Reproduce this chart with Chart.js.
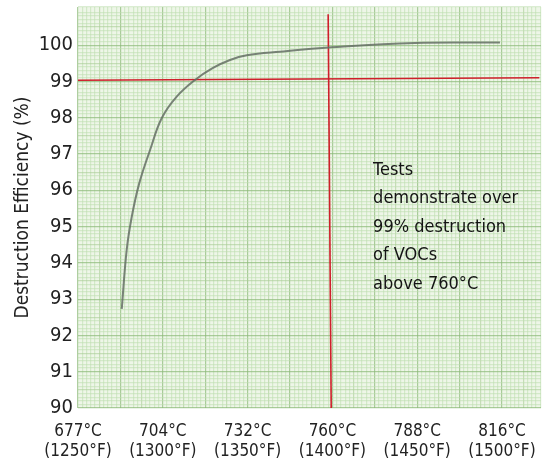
<!DOCTYPE html>
<html>
<head>
<meta charset="utf-8">
<script src="https://cdn.jsdelivr.net/npm/chart.js@4"></script>
<style>
  html, body { margin: 0; padding: 0; background: #fff; }
  #wrap { width: 549px; height: 464px; }
</style>
</head>
<body>
<div id="wrap"><canvas id="effChart"></canvas></div>
<script>
// temperatures in °F (x) and destruction efficiency in % (y)
const tempF = [1275.8, 1278.7, 1281.7, 1286.1, 1292.5, 1299.4, 1308.2, 1319.0, 1329.6, 1339.6, 1349.5, 1369.1, 1399.6, 1448.7, 1498.8];
const efficiency = [92.73, 94.35, 95.27, 96.19, 97.11, 97.99, 98.58, 99.04, 99.37, 99.59, 99.72, 99.82, 99.94, 100.06, 100.07];

// tick labels
const tickF = [1250, 1300, 1350, 1400, 1450, 1500];
const tickC = ['677°C', '704°C', '732°C', '760°C', '788°C', '816°C'];
const yLabels = [90, 91, 92, 93, 94, 95, 96, 97, 98, 99, 100];

// red guide lines
const threshX = [1250, 1522];
const threshY = [99.03, 99.1];
const markerX = [1397.5, 1399.3];
const markerY = [100.85, 90];

const note = ['Tests', 'demonstrate over', '99% destruction', 'of VOCs', 'above 760°C'];

const FONT = "'Liberation Sans Narrow', 'DejaVu Sans Condensed', Roboto, sans-serif";

const near = (v, step) => Math.abs(v / step - Math.round(v / step)) < 1e-6;

const paper = {
  id: 'paper',
  beforeDraw(chart) {
    const { ctx, chartArea: a } = chart;
    ctx.save();
    ctx.fillStyle = '#eef6e8';
    ctx.fillRect(a.left, a.top, a.right - a.left, a.bottom - a.top);
    ctx.restore();
  },
  afterDraw(chart) {
    const { ctx } = chart;
    const x = chart.scales.x.getPixelForValue(1424);
    const y0 = chart.scales.y.getPixelForValue(96.55);
    ctx.save();
    ctx.fillStyle = '#141414';
    ctx.font = '18px ' + FONT;
    ctx.textBaseline = 'middle';
    note.forEach((t, i) => ctx.fillText(t, x, y0 + i * 28.4));
    ctx.restore();
  }
};

function gridColor(ctx, major, mid) {
  const v = ctx.tick ? ctx.tick.value : 0;
  if (near(v, major)) return 'rgba(140,185,120,0.7)';
  if (near(v, mid)) return 'rgba(170,205,150,0.6)';
  return 'rgba(190,222,175,0.55)';
}

new Chart(document.getElementById('effChart'), {
  type: 'scatter',
  data: {
    datasets: [
      {
        data: tempF.map((x, i) => ({ x, y: efficiency[i] })),
        showLine: true,
        borderColor: 'rgba(100,110,100,0.85)',
        borderWidth: 2,
        pointRadius: 0,
        tension: 0.4
      },
      {
        data: threshX.map((x, i) => ({ x, y: threshY[i] })),
        showLine: true,
        borderColor: '#cf1f2b',
        borderWidth: 1.6,
        pointRadius: 0
      },
      {
        data: markerX.map((x, i) => ({ x, y: markerY[i] })),
        showLine: true,
        borderColor: '#cf1f2b',
        borderWidth: 1.6,
        pointRadius: 0
      }
    ]
  },
  options: {
    responsive: true,
    maintainAspectRatio: false,
    animation: false,
    layout: { padding: { top: 7, right: 8, left: 12, bottom: 0 } },
    plugins: { legend: { display: false }, tooltip: { enabled: false } },
    scales: {
      x: {
        type: 'linear',
        min: 1250,
        max: 1523,
        afterFit: s => { s.height = 56; s.paddingRight = 0; s.paddingLeft = 0; },
        border: { display: false },
        grid: {
          drawTicks: false,
          color: c => gridColor(c, 25, 12.5),
          lineWidth: 1.2
        },
        ticks: {
          stepSize: 2.5,
          autoSkip: false,
          maxRotation: 0,
          padding: 14,
          color: '#222',
          font: { family: FONT, size: 17, lineHeight: 1.15 },
          callback: v => {
            const i = tickF.findIndex(f => Math.abs(f - v) < 1e-6);
            return i >= 0 ? [tickC[i], '(' + tickF[i] + '°F)'] : '';
          }
        }
      },
      y: {
        min: 90,
        max: 101.05,
        afterFit: s => { s.width = 66; s.paddingTop = 0; s.paddingBottom = 0; },
        border: { display: false },
        grid: {
          drawTicks: false,
          color: c => gridColor(c, 1, 0.5),
          lineWidth: 1.2
        },
        title: {
          display: true,
          text: 'Destruction Efficiency (%)',
          color: '#222',
          font: { family: FONT, size: 19 },
          padding: { top: 0, bottom: 6 }
        },
        ticks: {
          stepSize: 0.1,
          autoSkip: false,
          padding: 5,
          color: '#222',
          font: { family: FONT, size: 20, lineHeight: 0.1 },
          callback: v => {
            const r = Math.round(v);
            return near(v, 1) && yLabels.includes(r) ? String(r) : '';
          }
        }
      }
    }
  },
  plugins: [paper]
});
</script>
</body>
</html>
